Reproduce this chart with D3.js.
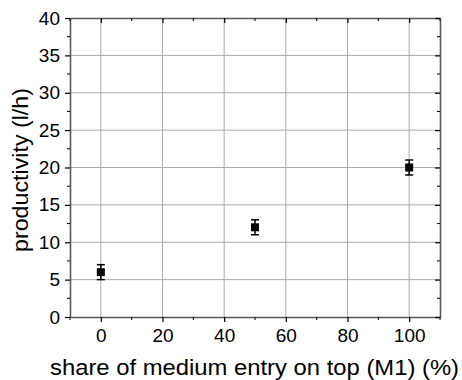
<!DOCTYPE html>
<html>
<head>
<meta charset="utf-8">
<script src="https://cdn.jsdelivr.net/npm/d3@7"></script>
<style>
  body { margin: 0; background: #fff; }
  text { font-family: "Liberation Sans", Arial, sans-serif; fill: #000; }
</style>
</head>
<body>
<svg id="chart" width="462" height="380"></svg>
<script>
// data
const shares = [0, 50, 100];
const productivity = [6, 12, 20];
const errors = [1, 1, 1];

const xTicks = [0, 20, 40, 60, 80, 100];
const xMinor = [-10, 10, 30, 50, 70, 90, 110];
const yTicks = [0, 5, 10, 15, 20, 25, 30, 35, 40];
const yMinor = [2.5, 7.5, 12.5, 17.5, 22.5, 27.5, 32.5, 37.5];

const margin = { left: 70, right: 22, top: 18, bottom: 63 };
const width = 462, height = 380;

const svg = d3.select('#chart');

const x = d3.scaleLinear().domain([-10, 110]).range([margin.left, width - margin.right]);
const y = d3.scaleLinear().domain([0, 40]).range([height - margin.bottom, margin.top]);

const gridColor = '#ababab';
const axisColor = '#5a5a5a';

// grid
svg.append('g')
  .selectAll('line')
  .data(xTicks)
  .join('line')
  .attr('x1', d => x(d)).attr('x2', d => x(d))
  .attr('y1', y(0)).attr('y2', y(40))
  .attr('stroke', gridColor).attr('stroke-width', 1);

svg.append('g')
  .selectAll('line')
  .data(yTicks.filter(d => d > 0 && d < 40))
  .join('line')
  .attr('x1', x(-10)).attr('x2', x(110))
  .attr('y1', d => y(d)).attr('y2', d => y(d))
  .attr('stroke', gridColor).attr('stroke-width', 1);

// axes: bottom/left outward ticks, top/right mirrored inward
function styleAxis(g) {
  g.select('.domain').attr('stroke', axisColor).attr('stroke-width', 1.6);
  g.selectAll('.tick line').attr('stroke', '#000').attr('stroke-width', 1.2);
  g.selectAll('text').attr('font-size', 19).attr('fill', '#000')
    .attr('font-family', '"Liberation Sans", Arial, sans-serif');
}

const bottomAxis = svg.append('g')
  .attr('transform', `translate(0,${y(0)})`)
  .call(d3.axisBottom(x).tickValues(xTicks).tickSize(5).tickPadding(7).tickSizeOuter(0));
styleAxis(bottomAxis);

const leftAxis = svg.append('g')
  .attr('transform', `translate(${x(-10)},0)`)
  .call(d3.axisLeft(y).tickValues(yTicks).tickSize(5).tickPadding(5).tickSizeOuter(0));
styleAxis(leftAxis);

const topAxis = svg.append('g')
  .attr('transform', `translate(0,${y(40)})`)
  .call(d3.axisBottom(x).tickValues(xTicks).tickSize(5).tickFormat('').tickSizeOuter(0));
styleAxis(topAxis);

const rightAxis = svg.append('g')
  .attr('transform', `translate(${x(110)},0)`)
  .call(d3.axisLeft(y).tickValues(yTicks).tickSize(5).tickFormat('').tickSizeOuter(0));
styleAxis(rightAxis);

// minor ticks
const minor = svg.append('g').attr('stroke', '#000').attr('stroke-width', 1);
minor.selectAll('line.bm').data(xMinor).join('line').attr('class', 'bm')
  .attr('x1', d => x(d)).attr('x2', d => x(d)).attr('y1', y(0)).attr('y2', y(0) + 3);
minor.selectAll('line.tm').data(xMinor).join('line').attr('class', 'tm')
  .attr('x1', d => x(d)).attr('x2', d => x(d)).attr('y1', y(40)).attr('y2', y(40) + 3);
minor.selectAll('line.lm').data(yMinor).join('line').attr('class', 'lm')
  .attr('x1', x(-10) - 3).attr('x2', x(-10)).attr('y1', d => y(d)).attr('y2', d => y(d));
minor.selectAll('line.rm').data(yMinor).join('line').attr('class', 'rm')
  .attr('x1', x(110) - 3).attr('x2', x(110)).attr('y1', d => y(d)).attr('y2', d => y(d));

// error bars + markers
const pts = shares.map((s, i) => ({ s, v: productivity[i], e: errors[i] }));
const capW = 4;
const eb = svg.append('g').attr('stroke', '#000').attr('stroke-width', 1.5);
eb.selectAll('line.v').data(pts).join('line').attr('class', 'v')
  .attr('x1', d => x(d.s)).attr('x2', d => x(d.s))
  .attr('y1', d => y(d.v - d.e)).attr('y2', d => y(d.v + d.e));
eb.selectAll('line.ct').data(pts).join('line').attr('class', 'ct')
  .attr('x1', d => x(d.s) - capW).attr('x2', d => x(d.s) + capW)
  .attr('y1', d => y(d.v + d.e)).attr('y2', d => y(d.v + d.e));
eb.selectAll('line.cb').data(pts).join('line').attr('class', 'cb')
  .attr('x1', d => x(d.s) - capW).attr('x2', d => x(d.s) + capW)
  .attr('y1', d => y(d.v - d.e)).attr('y2', d => y(d.v - d.e));

svg.append('g').selectAll('rect').data(pts).join('rect')
  .attr('x', d => x(d.s) - 4).attr('y', d => y(d.v) - 4)
  .attr('width', 8).attr('height', 8).attr('fill', '#000');

// axis titles (reference face is a touch wider than Liberation Sans)
svg.append('text')
  .attr('x', 50).attr('y', 375)
  .attr('font-size', 22)
  .attr('textLength', 409).attr('lengthAdjust', 'spacingAndGlyphs')
  .text('share of medium entry on top (M1) (%)');

svg.append('text')
  .attr('transform', `translate(28,252) rotate(-90)`)
  .attr('font-size', 22)
  .attr('textLength', 164).attr('lengthAdjust', 'spacingAndGlyphs')
  .text('productivity (l/h)');
</script>
</body>
</html>
